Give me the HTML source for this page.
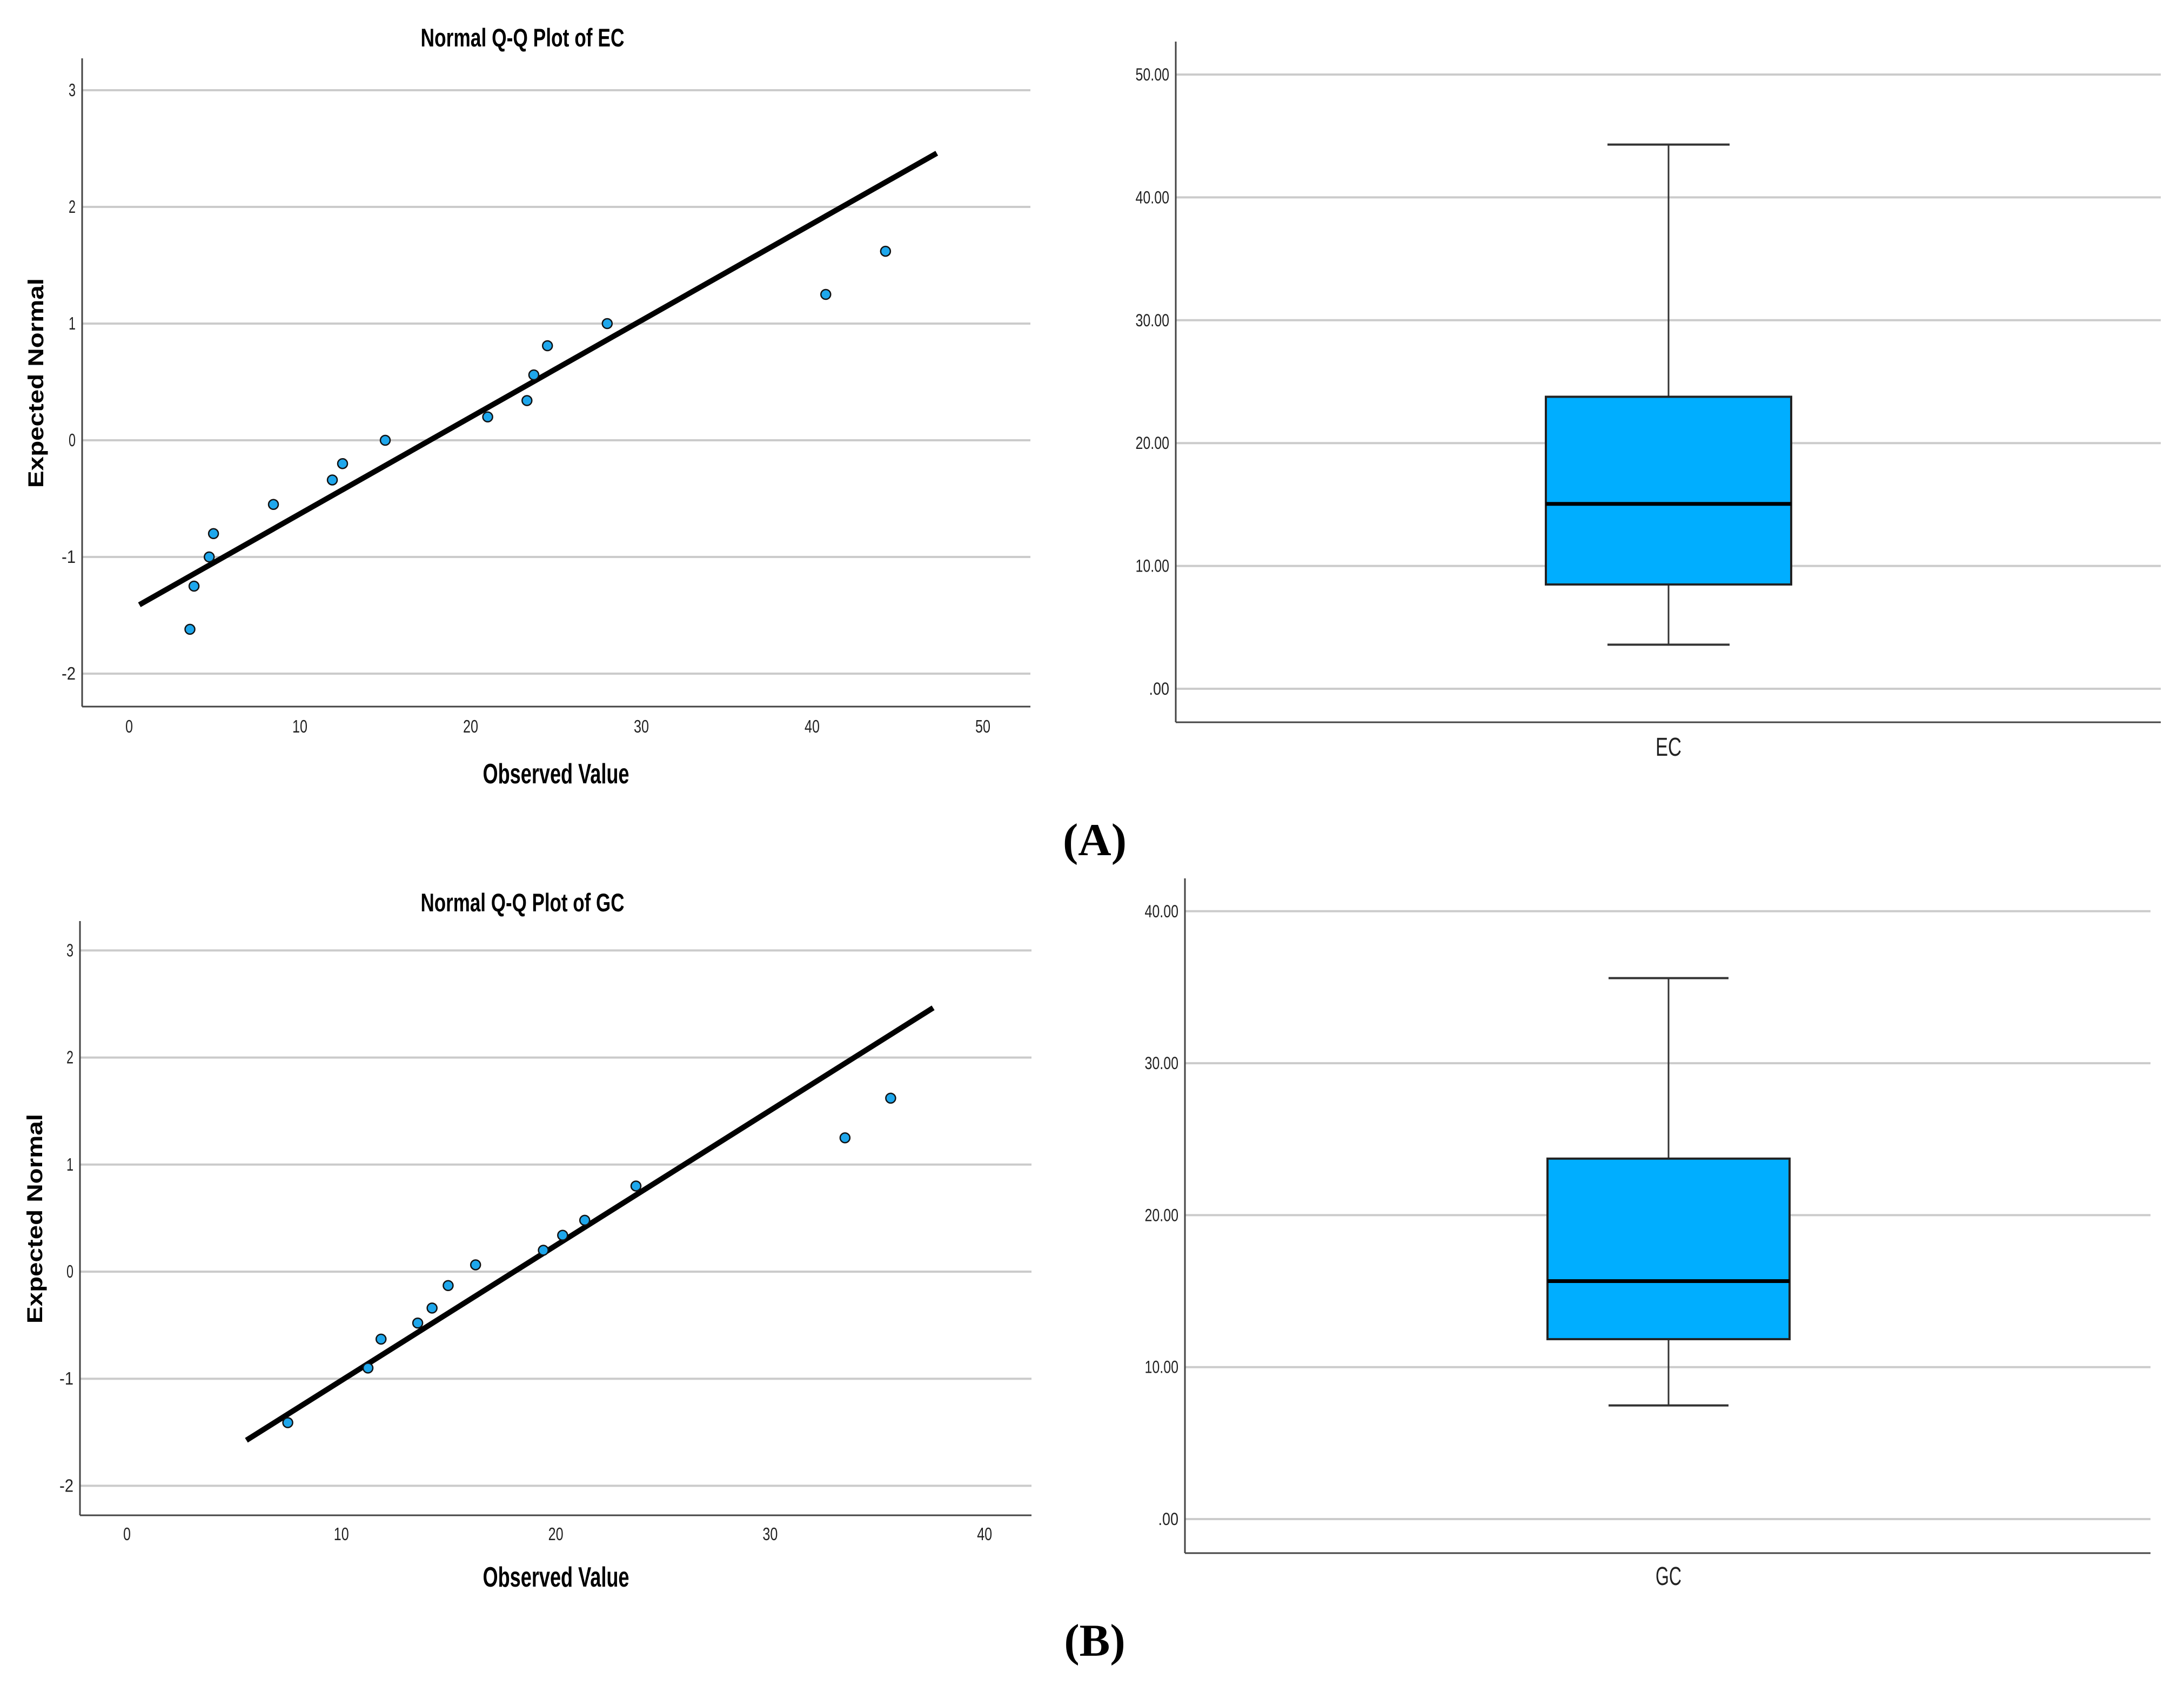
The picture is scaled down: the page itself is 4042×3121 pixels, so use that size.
<!DOCTYPE html>
<html><head><meta charset="utf-8"><style>
html,body{margin:0;padding:0;background:#fff;}
svg{display:block;}
text{font-family:"Liberation Sans",sans-serif;}
</style></head>
<body>
<svg id="fig" width="4042" height="3121" viewBox="0 0 4042 3121" xmlns="http://www.w3.org/2000/svg">
<rect width="4042" height="3121" fill="#fff"/>
<text x="2026" y="1583" text-anchor="middle" font-size="85" font-weight="bold" style="font-family:'Liberation Serif',serif">(A)</text>
<text x="2026" y="3065" text-anchor="middle" font-size="85" font-weight="bold" style="font-family:'Liberation Serif',serif">(B)</text>
</svg>
<script>
// ---- Data ----
const qqA_observed = [3.56,3.80,4.69,4.94,8.45,11.9,12.5,15.0,21.0,23.3,23.7,24.5,28.0,40.8,44.3];
const qqA_expected = [-1.62,-1.25,-1.00,-0.80,-0.55,-0.34,-0.20,0.00,0.20,0.34,0.56,0.81,1.00,1.25,1.62];
const qqA_line = [[0.6,-1.41],[47.3,2.46]];
const qqA_xTicks = [0,10,20,30,40,50];
const qqA_yTicks = [3,2,1,0,-1,-2];

const qqB_observed = [7.50,11.24,11.85,13.56,14.23,14.98,16.26,19.42,20.32,21.35,23.74,33.49,35.62];
const qqB_expected = [-1.41,-0.90,-0.63,-0.48,-0.34,-0.13,0.064,0.20,0.34,0.48,0.80,1.25,1.62];
const qqB_line = [[5.57,-1.575],[37.6,2.464]];
const qqB_xTicks = [0,10,20,30,40];
const qqB_yTicks = [3,2,1,0,-1,-2];

const boxA_stats = [3.59,8.49,15.05,23.77,44.3]; // min,q1,median,q3,max
const boxA_ticks = [0,10,20,30,40,50];
const boxA_tickLabels = [".00","10.00","20.00","30.00","40.00","50.00"];
const boxB_stats = [7.48,11.84,15.66,23.72,35.6];
const boxB_ticks = [0,10,20,30,40];
const boxB_tickLabels = [".00","10.00","20.00","30.00","40.00"];

const NS = "http://www.w3.org/2000/svg";
const svg = document.getElementById('fig');
function mk(tag, attrs, parent){
  const e = document.createElementNS(NS, tag);
  for (const k in attrs) e.setAttribute(k, attrs[k]);
  (parent||svg).appendChild(e);
  return e;
}
function txt(s, attrs, parent){ const e = mk('text', attrs, parent); e.textContent = s; return e; }

function qq(cfg, obs, expv, line, xt, yt){
  const g = mk('g', {});
  
  
  const X = v => cfg.x0 + (v - 0) * cfg.xu;
  const Y = v => cfg.y0 - v * cfg.yu;
  yt.forEach(t => {
    const l = mk('line', {x1:cfg.ax, x2:cfg.right, y1:Y(t), y2:Y(t), stroke:'#cbcbcb', 'stroke-width':4}, g);
    
    
    const tl = txt(String(t), {x:cfg.ax-12, y:Y(t)+11, 'text-anchor':'end', 'font-size':33, fill:'#222', textLength: String(t).length*13, lengthAdjust:'spacingAndGlyphs'}, g);
    
    
  });
  xt.forEach(t => {
    const tl = txt(String(t), {x:X(t), y:cfg.xtY, 'text-anchor':'middle', 'font-size':33, fill:'#222', textLength: String(t).length*14, lengthAdjust:'spacingAndGlyphs'}, g);
    
    
  });
  const ya = mk('line', {x1:cfg.ax, x2:cfg.ax, y1:cfg.top, y2:cfg.bottom, stroke:'#444', 'stroke-width':3}, g);
  
  
  const xa = mk('line', {x1:cfg.ax, x2:cfg.right, y1:cfg.bottom, y2:cfg.bottom, stroke:'#444', 'stroke-width':3}, g);
  
  
  const rl = mk('line', {x1:X(line[0][0]), y1:Y(line[0][1]), x2:X(line[1][0]), y2:Y(line[1][1]), stroke:'#000', 'stroke-width':10}, g);
  
  
  obs.forEach((v,i) => {
    const c = mk('circle', {cx:X(v), cy:Y(expv[i]), r:9, fill:'#1ea7ec', stroke:'#111', 'stroke-width':2.5}, g);
    
    
  });
  const t = txt(cfg.title, {x:cfg.tx, y:cfg.titleY, 'text-anchor':'middle', 'font-size':47, 'font-weight':'bold', fill:'#000', textLength:377, lengthAdjust:'spacingAndGlyphs'}, g);
  
  
  const xl = txt('Observed Value', {x:1029, y:cfg.xlY, 'text-anchor':'middle', 'font-size':52, 'font-weight':'bold', fill:'#000', textLength:271, lengthAdjust:'spacingAndGlyphs'}, g);
  
  
  const yl = txt('Expected Normal', {x:0, y:0, 'text-anchor':'middle', 'font-size':40, 'font-weight':'bold', fill:'#000', textLength:388, lengthAdjust:'spacingAndGlyphs', transform:`translate(${cfg.ylX},${cfg.ylY}) rotate(-90)`}, g);
  
  
}

function box(cfg, st, ticks, labels){
  const g = mk('g', {});
  
  
  const Y = v => cfg.y0 - v * cfg.yu;
  ticks.forEach((t,i) => {
    const l = mk('line', {x1:cfg.ax, x2:cfg.right, y1:Y(t), y2:Y(t), stroke:'#cbcbcb', 'stroke-width':4}, g);
    
    
    const tl = txt(labels[i], {x:cfg.ax-12, y:Y(t)+11, 'text-anchor':'end', 'font-size':32, fill:'#222', textLength: labels[i].length*12.5, lengthAdjust:'spacingAndGlyphs'}, g);
    
    
  });
  const ya = mk('line', {x1:cfg.ax, x2:cfg.ax, y1:cfg.top, y2:cfg.bottom, stroke:'#444', 'stroke-width':3}, g);
  
  
  const xa = mk('line', {x1:cfg.ax, x2:cfg.right, y1:cfg.bottom, y2:cfg.bottom, stroke:'#444', 'stroke-width':3}, g);
  
  
  const w1 = mk('line', {x1:cfg.cx, x2:cfg.cx, y1:Y(st[4]), y2:Y(st[3]), stroke:'#333', 'stroke-width':3}, g);
  
  
  const w2 = mk('line', {x1:cfg.cx, x2:cfg.cx, y1:Y(st[1]), y2:Y(st[0]), stroke:'#333', 'stroke-width':3}, g);
  
  
  const c1 = mk('line', {x1:cfg.cx-cfg.cap, x2:cfg.cx+cfg.cap, y1:Y(st[4]), y2:Y(st[4]), stroke:'#333', 'stroke-width':4}, g);
  
  
  const c2 = mk('line', {x1:cfg.cx-cfg.cap, x2:cfg.cx+cfg.cap, y1:Y(st[0]), y2:Y(st[0]), stroke:'#333', 'stroke-width':4}, g);
  
  
  const b = mk('rect', {x:cfg.cx-cfg.hw, y:Y(st[3]), width:cfg.hw*2, height:Y(st[1])-Y(st[3]), fill:'#00aeff', stroke:'#222', 'stroke-width':4}, g);
  
  
  const m = mk('line', {x1:cfg.cx-cfg.hw, x2:cfg.cx+cfg.hw, y1:Y(st[2]), y2:Y(st[2]), stroke:'#000', 'stroke-width':7}, g);
  
  
  const l = txt(cfg.label, {x:cfg.cx, y:cfg.labelY, 'text-anchor':'middle', 'font-size':48, fill:'#222', textLength:cfg.label.length*24, lengthAdjust:'spacingAndGlyphs'}, g);
  
  
}

qq({name:'qq-plot-ec', title:'Normal Q-Q Plot of EC', ax:152, right:1907, top:108, bottom:1308, x0:239, xu:31.6, y0:815, yu:216, xtY:1356, titleY:86, tx:967, xlY:1450, ylX:80, ylY:709},
   qqA_observed, qqA_expected, qqA_line, qqA_xTicks, qqA_yTicks);
qq({name:'qq-plot-gc', title:'Normal Q-Q Plot of GC', ax:148, right:1909, top:1705, bottom:2805, x0:235, xu:39.68, y0:2354, yu:198.2, xtY:2851, titleY:1687, tx:967, xlY:2937, ylX:78, ylY:2256},
   qqB_observed, qqB_expected, qqB_line, qqB_xTicks, qqB_yTicks);
box({name:'boxplot-ec', label:'EC', ax:2176, right:3999, top:77, bottom:1337, y0:1275, yu:22.74, cx:3088, hw:227, cap:113, labelY:1399},
   boxA_stats, boxA_ticks, boxA_tickLabels);
box({name:'boxplot-gc', label:'GC', ax:2193, right:3980, top:1626, bottom:2875, y0:2812, yu:28.13, cx:3088, hw:224, cap:111, labelY:2934},
   boxB_stats, boxB_ticks, boxB_tickLabels);
</script>
</body></html>
